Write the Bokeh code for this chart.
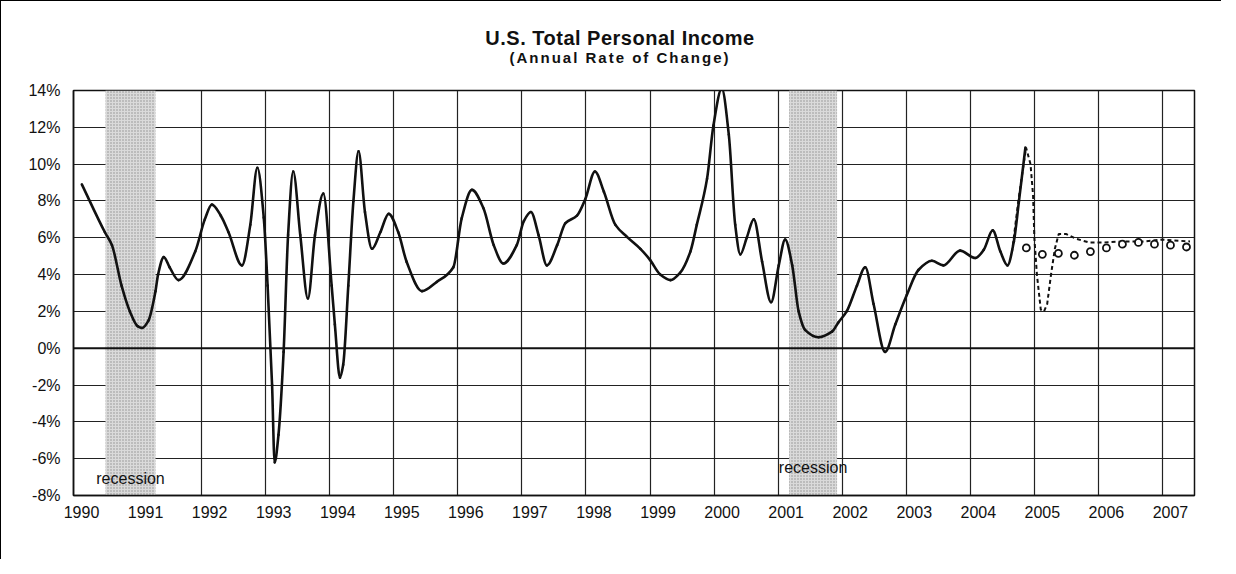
from bokeh.plotting import figure
from bokeh.models import (Range1d, FixedTicker, PrintfTickFormatter, Span, Div,
                          ColumnDataSource)
from bokeh.layouts import column
from bokeh.core.properties import value
from bokeh.embed import file_html
from bokeh.resources import INLINE

# ---------------- data ----------------
actual_t = [1990.13, 1990.49, 1990.6, 1990.75, 1990.88, 1991.0, 1991.07, 1991.17, 1991.28,
            1991.32, 1991.41, 1991.5, 1991.64, 1991.9, 1992.05, 1992.16, 1992.3, 1992.42,
            1992.63, 1992.76, 1992.87, 1992.97, 1993.03, 1993.1, 1993.14, 1993.2, 1993.28,
            1993.35, 1993.43, 1993.54, 1993.66, 1993.77, 1993.9, 1994.03, 1994.08, 1994.16,
            1994.21, 1994.29, 1994.37, 1994.45, 1994.55, 1994.66, 1994.79, 1994.92, 1995.07,
            1995.2, 1995.44, 1995.67, 1995.93, 1996.06, 1996.22, 1996.4, 1996.56, 1996.71,
            1996.92, 1997.03, 1997.14, 1997.26, 1997.39, 1997.55, 1997.68, 1997.86, 1997.99,
            1998.14, 1998.28, 1998.46, 1998.64, 1998.85, 1999.0, 1999.16, 1999.32, 1999.47,
            1999.63, 1999.73, 1999.89, 1999.99, 2000.12, 2000.23, 2000.33, 2000.41, 2000.51,
            2000.62, 2000.75, 2000.89, 2001.01, 2001.11, 2001.22, 2001.32, 2001.42, 2001.63,
            2001.84, 2001.94, 2002.07, 2002.23, 2002.36, 2002.49, 2002.67, 2002.83, 2003.01,
            2003.19, 2003.4, 2003.58, 2003.84, 2004.08, 2004.21, 2004.35, 2004.47, 2004.58,
            2004.68, 2004.76, 2004.86]
actual_v = [8.9, 6.3, 5.6, 3.4, 2.0, 1.2, 1.1, 1.5, 3.1,
            4.0, 4.95, 4.4, 3.7, 5.25, 7.0, 7.8, 7.2, 6.3,
            4.5, 6.7, 9.8, 7.1, 3.4, -2.0, -6.2, -4.7, -0.2,
            6.15, 9.6, 6.15, 2.7, 6.15, 8.4, 3.4, 1.3, -1.6,
            -0.9, 3.4, 8.0, 10.7, 7.4, 5.4, 6.3, 7.3, 6.3,
            4.7, 3.1, 3.6, 4.4, 7.05, 8.6, 7.6, 5.6, 4.6,
            5.6, 6.9, 7.4, 6.15, 4.5, 5.6, 6.8, 7.2, 8.1,
            9.6, 8.5, 6.7, 6.05, 5.4, 4.8, 4.0, 3.7, 4.1,
            5.25, 6.7, 9.2, 12.1, 14.1, 11.6, 6.7, 5.1, 6.0,
            7.0, 4.7, 2.5, 4.5, 5.9, 4.5, 2.0, 1.0, 0.6,
            0.9, 1.4, 2.0, 3.4, 4.4, 2.4, -0.2, 1.3, 2.9,
            4.25, 4.75, 4.5, 5.3, 4.9, 5.35, 6.4, 5.25, 4.5,
            5.8, 8.0, 10.9]

alt_t = [2004.65, 2004.75, 2004.87, 2004.94, 2004.98, 2005.0, 2005.04, 2005.1, 2005.15,
         2005.2, 2005.26, 2005.32, 2005.38, 2005.5, 2005.65, 2005.85, 2006.1, 2006.4,
         2006.7, 2007.0, 2007.43]
alt_v = [5.2, 8.0, 10.9, 10.0, 8.3, 6.0, 4.0, 2.1, 2.0,
         2.4, 4.0, 5.4, 6.2, 6.2, 5.95, 5.75, 5.75, 5.8,
         5.8, 5.9, 5.8]

fcst_t = [2004.875, 2005.125, 2005.375, 2005.625, 2005.875, 2006.125, 2006.375,
          2006.625, 2006.875, 2007.125, 2007.375]
fcst_v = [5.45, 5.1, 5.15, 5.05, 5.25, 5.45, 5.65, 5.75, 5.65, 5.6, 5.5]

recession_start = [1990.5, 2001.17]
recession_end = [1991.28, 2001.92]
recession_text = ["recession", "recession"]

years = list(range(1990, 2008))
year_labels = [str(y) for y in years]
y_ticks = list(range(-8, 15, 2))

title_text = "U.S. Total Personal Income"
subtitle_text = "(Annual Rate of Change)"

# --------------- styles ---------------
FONT = "Liberation Sans"
label_shift = 0.125          # year labels sit slightly right of gridlines
rec_label_y = [-7.07, -6.5]  # placement of "recession" labels


def smooth_segments(xs, ys):
    """Bezier control points for a smoothed line through the given points
    (monotone cubic tangents, like a spreadsheet 'smoothed line')."""
    n = len(xs)
    h = [xs[i + 1] - xs[i] for i in range(n - 1)]
    d = [(ys[i + 1] - ys[i]) / h[i] for i in range(n - 1)]
    m = [0.0] * n
    m[0], m[-1] = d[0], d[-1]
    for i in range(1, n - 1):
        if d[i - 1] * d[i] <= 0:
            m[i] = 0.0
        else:
            h0, h1 = h[i - 1], h[i]
            m[i] = 3 * (h0 + h1) / ((2 * h1 + h0) / d[i - 1] + (h1 + 2 * h0) / d[i])
    seg = dict(x0=[], y0=[], x1=[], y1=[], cx0=[], cy0=[], cx1=[], cy1=[])
    for i in range(n - 1):
        seg["x0"].append(xs[i]); seg["y0"].append(ys[i])
        seg["x1"].append(xs[i + 1]); seg["y1"].append(ys[i + 1])
        seg["cx0"].append(xs[i] + h[i] / 3); seg["cy0"].append(ys[i] + m[i] * h[i] / 3)
        seg["cx1"].append(xs[i + 1] - h[i] / 3); seg["cy1"].append(ys[i + 1] - m[i + 1] * h[i] / 3)
    return seg


header = Div(
    text=(
        '<div style="width:1200px;margin-left:19px;text-align:center;'
        "font-family:'Liberation Sans',Arial,sans-serif;font-weight:bold;color:#111;\">"
        f'<div style="font-size:20px;line-height:20px;padding-top:27px;letter-spacing:0.5px;">{title_text}</div>'
        f'<div style="font-size:15px;line-height:20px;letter-spacing:2px;">{subtitle_text}</div>'
        "</div>"
    ),
    width=1220, height=80, margin=0)

p = figure(frame_width=1121, frame_height=405,
           min_border_left=72, min_border_top=9, min_border_right=27, min_border_bottom=64,
           x_range=Range1d(1990, 2007.5), y_range=Range1d(-8, 14),
           output_backend="svg", toolbar_location=None, margin=0,
           background_fill_color="white", border_fill_color="white")
p.outline_line_color = "#111"
p.outline_line_width = 1.5

# recession shading
rsrc = ColumnDataSource(dict(left=recession_start, right=recession_end,
                             bottom=[-8] * len(recession_start), top=[14] * len(recession_start)))
p.quad(left="left", right="right", bottom="bottom", top="top", source=rsrc,
       fill_color="#dadada", line_color=None,
       hatch_pattern=".", hatch_color="#8f8f8f", hatch_scale=3, hatch_weight=1)

p.add_layout(Span(location=0, dimension="width", line_color="#111", line_width=2.2))

# series
p.line(alt_t, alt_v, line_color="#111", line_width=2, line_dash="4 3")
p.bezier(source=ColumnDataSource(smooth_segments(actual_t, actual_v)),
         x0="x0", y0="y0", x1="x1", y1="y1", cx0="cx0", cy0="cy0", cx1="cx1", cy1="cy1",
         line_color="#111", line_width=2.6, line_cap="round")
p.scatter(fcst_t, fcst_v, marker="circle", size=7, line_color="#111", line_width=1.8,
          fill_color="white")

mids = [(a + b) / 2 for a, b in zip(recession_start, recession_end)]
p.text(x=mids, y=rec_label_y, text=recession_text, text_align="center",
       text_baseline="middle", text_font=value(FONT), text_font_size="16px",
       text_color="#111")

# axes & grid
p.xaxis.ticker = FixedTicker(ticks=[y + label_shift for y in years])
p.xaxis.major_label_overrides = {y + label_shift: lab for y, lab in zip(years, year_labels)}
p.xgrid.ticker = FixedTicker(ticks=years)
p.yaxis.ticker = FixedTicker(ticks=y_ticks)
p.yaxis.formatter = PrintfTickFormatter(format="%d%%")
for ax in (p.xaxis[0], p.yaxis[0]):
    ax.major_tick_out = 0
    ax.major_tick_in = 0
    ax.minor_tick_out = 0
    ax.minor_tick_in = 0
    ax.axis_line_color = "#111"
    ax.axis_line_width = 1.5
    ax.major_label_text_font = FONT
    ax.major_label_text_font_size = "16px"
    ax.major_label_text_color = "#111"
p.xaxis.major_label_standoff = 10
p.yaxis.major_label_standoff = 13
p.xgrid.grid_line_color = "#222"
p.ygrid.grid_line_color = "#222"
p.xgrid.grid_line_width = 1.2
p.ygrid.grid_line_width = 1.2

layout = column(header, p, spacing=0,
                styles={"border-left": "1px solid #000", "border-top": "1px solid #000",
                        "background-color": "white"})

open("out.html", "w").write(file_html(layout, INLINE))
